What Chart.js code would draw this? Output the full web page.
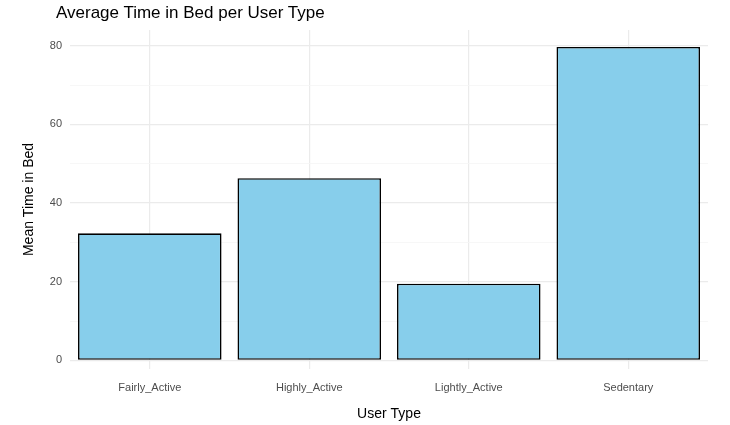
<!DOCTYPE html>
<html><head><meta charset="utf-8">
<script src="https://cdn.jsdelivr.net/npm/chart.js@4"></script>
<style>html,body{margin:0;padding:0;background:#fff}#w{position:relative;width:730px;height:425px}
#t{position:absolute;left:56px;top:3px;font:17px "Liberation Sans",Arial,sans-serif;color:#000}</style>
</head><body><div id="w"><div id="t">Average Time in Bed per User Type</div><canvas id="c"></canvas></div>
<script>
const categories = ["Fairly_Active","Highly_Active","Lightly_Active","Sedentary"];
const meanTimeInBed = [32.3, 46.3, 19.5, 79.7];
const yTickLabels = [0,20,40,60,80];
Chart.defaults.font.family = "Liberation Sans, Arial, sans-serif";
new Chart(document.getElementById('c'), {
  type: 'bar',
  data: { labels: categories, datasets: [{ data: meanTimeInBed, backgroundColor: '#87ceeb', borderColor: '#000', borderWidth: 1.6, borderSkipped: false, categoryPercentage: 1, barPercentage: 0.9 }] },
  options: {
    responsive: true, maintainAspectRatio: false, animation: false,
    layout: { padding: { left: 17, right: 22, top: 30, bottom: 2 } },
    plugins: { legend: { display: false }, tooltip: { enabled: false }, title: { display: false } },
    scales: {
      x: { offset: true, grid: { color: '#ebebeb', lineWidth: 1.2, drawTicks: false, offset: false }, border: { display: false },
        ticks: { color: '#4d4d4d', font: { size: 11 }, padding: 12 },
        title: { display: true, text: 'User Type', color: '#000', font: { size: 14 }, padding: { top: 0, bottom: 0 } } },
      y: { min: -2.2, max: 84, border: { display: false },
        afterBuildTicks: a => { a.ticks = [0,10,20,30,40,50,60,70,80].map(v => ({ value: v })); },
        grid: { drawTicks: false, color: c => (c.tick && yTickLabels.includes(c.tick.value)) ? '#ebebeb' : '#f5f5f5', lineWidth: c => (c.tick && yTickLabels.includes(c.tick.value)) ? 1.2 : 0.8 },
        ticks: { color: '#4d4d4d', font: { size: 11 }, padding: 8, callback: v => yTickLabels.includes(v) ? v : '' },
        title: { display: true, text: 'Mean Time in Bed', color: '#000', font: { size: 14 }, padding: { bottom: 4 } } }
    }
  }
});
</script></body></html>
